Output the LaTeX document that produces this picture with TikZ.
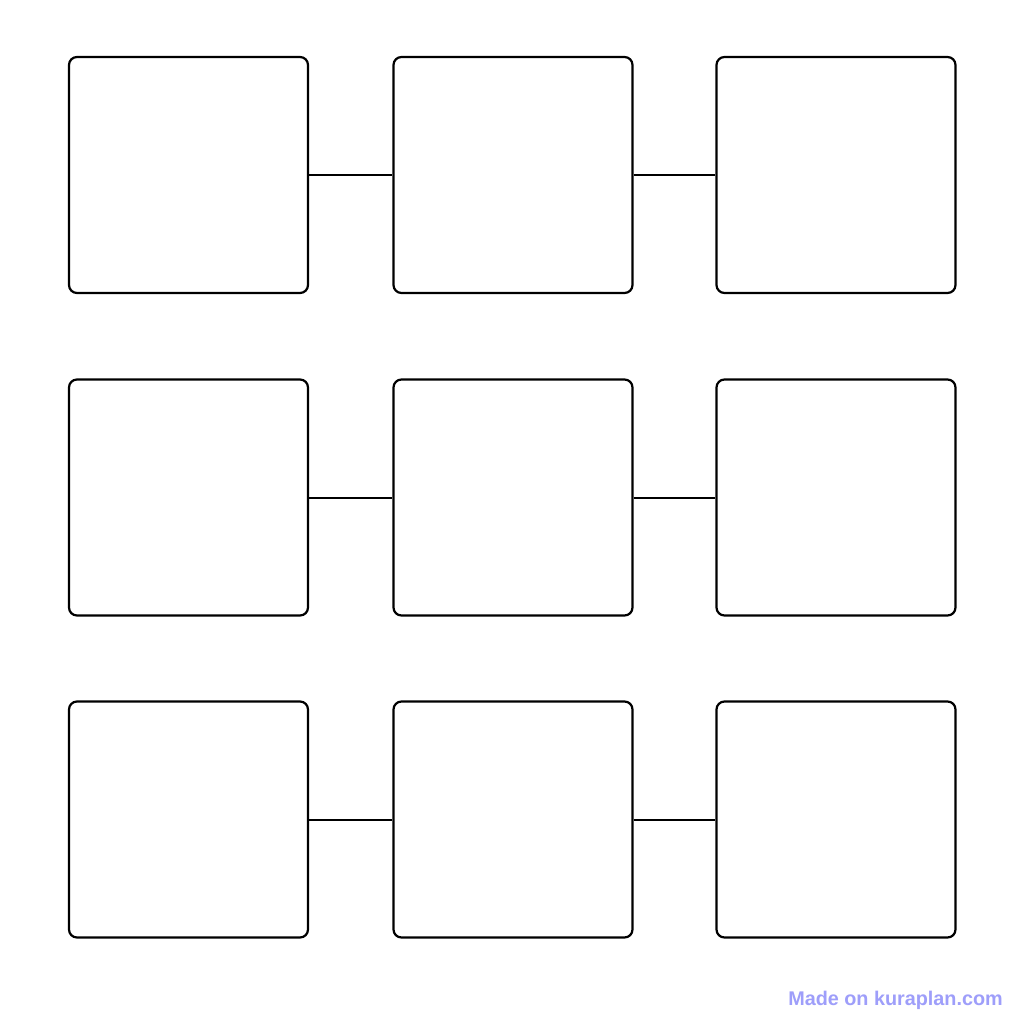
\documentclass[tikz,border=0pt]{standalone}
\usepackage{fontspec}
\setmainfont{Liberation Sans}
\definecolor{markcolor}{RGB}{158,158,250}
\begin{document}
\begin{tikzpicture}[x=1pt,y=-1pt]

      \useasboundingbox[fill=white] (0,0) rectangle (1024,1024);

      \begin{scope}[every node/.style={draw, line width=2.2pt, rounded corners=8pt,
          minimum width=239pt, minimum height=236pt, inner sep=0pt}]
        \node (1) at (188.5,175)   {};
        \node (2) at (513,175)     {};
        \node (3) at (836,175)     {};
        \node (4) at (188.5,497.5) {};
        \node (5) at (513,497.5)   {};
        \node (6) at (836,497.5)   {};
        \node (7) at (188.5,819.5) {};
        \node (8) at (513,819.5)   {};
        \node (9) at (836,819.5)   {};
      \end{scope}

      \begin{scope}[every edge/.style={draw, line width=2pt}]
        \path (1) edge (2);
        \path (2) edge (3);
        \path (4) edge (5);
        \path (5) edge (6);
        \path (7) edge (8);
        \path (8) edge (9);
      \end{scope}

      \node[text=markcolor, font=\bfseries\fontsize{19.8}{20}\selectfont,
        anchor=east, inner sep=0pt] (mark) at (1003,1000) {Made on kuraplan.com};

    \end{tikzpicture}
\end{document}
